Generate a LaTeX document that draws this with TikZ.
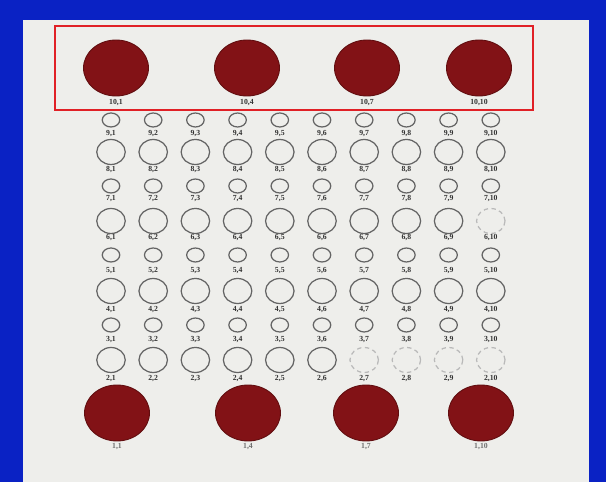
\documentclass[tikz,border=0pt]{standalone}
\usepackage{fontspec}
\setmainfont{Liberation Serif}
\usepackage{tikz}
\usetikzlibrary{shapes.geometric}

\definecolor{slideblue}{RGB}{10,34,196}
\definecolor{paper}{RGB}{238,238,235}
\definecolor{dotred}{RGB}{130,18,22}
\definecolor{ringgrey}{RGB}{100,100,100}
\definecolor{boxred}{RGB}{224,32,38}
\definecolor{lblgrey}{RGB}{50,50,50}

\tikzset{
  reddot/.style={ellipse, fill=dotred, draw=dotred!75!black, line width=0.5pt,
    minimum width=1.3cm, minimum height=1.12cm, inner sep=0pt},
  bigring/.style={ellipse, draw=ringgrey, line width=0.7pt,
    minimum width=0.57cm, minimum height=0.5cm, inner sep=0pt},
  smallring/.style={ellipse, draw=ringgrey, line width=0.7pt,
    minimum width=0.35cm, minimum height=0.28cm, inner sep=0pt},
  faint/.style={draw=ringgrey!45, dash pattern=on 2.5pt off 2pt},
  lbl/.style={inner sep=0pt, text=lblgrey, font=\fontsize{4.4}{5}\selectfont\bfseries}
}

\begin{document}
\begin{tikzpicture}[x=0.02cm, y=-0.02cm]
  % Slide background and scanned sheet
  \fill[slideblue] (0,0) rectangle (606,482);
  \fill[paper] (23,20) rectangle (589,482);
  \useasboundingbox (0,0) rectangle (606,482);

  % Rings: row, centre y, label y, ring style
  \foreach \r/\y/\ly/\kind in {9/120/134/smallring, 8/152/170/bigring,
      7/186/199/smallring, 6/221/238/bigring, 5/255/271/smallring,
      4/291/310/bigring, 3/325/340/smallring, 2/360/379/bigring} {
    \foreach \c in {1,...,10} {
      \pgfmathsetmacro\xc{111+42.2*(\c-1)}
      \pgfmathtruncatemacro\fade{((\r==2)&&(\c>6)) || ((\r==6)&&(\c==10)) ? 1 : 0}
      \ifnum\fade=1
        \node[\kind, faint] (w\r-\c) at (\xc,\y) {};
      \else
        \node[\kind] (w\r-\c) at (\xc,\y) {};
      \fi
      \node[lbl] (l\r-\c) at (\xc,\ly) {\r,\c};
    }
  }

  % Top row of filled spots
  \foreach \c/\x in {1/116,4/247,7/367,10/479} {
    \node[reddot] (t\c) at (\x,68) {};
    \node[lbl] (tl\c) at (\x,103) {10,\c};
  }

  % Bottom row of filled spots
  \foreach \c/\x in {1/117,4/248,7/366,10/481} {
    \node[reddot] (b\c) at (\x,413) {};
    \node[lbl, text=lblgrey!70] (bl\c) at (\x,447) {1,\c};
  }

  % Highlight box round the top row
  \draw[boxred, line width=1.2pt] (55,26) rectangle (533,110);
\end{tikzpicture}
\end{document}
